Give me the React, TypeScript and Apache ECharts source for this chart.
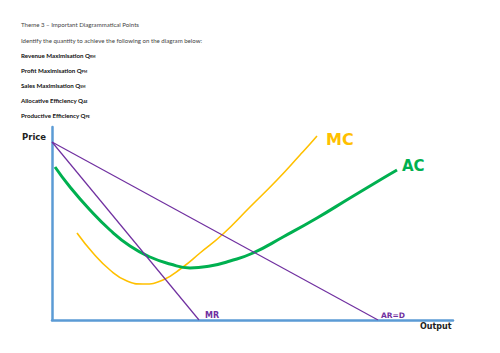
import React, { useEffect, useRef } from "react";
import * as echarts from "echarts";

// Curves (output units 0..401, price units 0..193)
const acPoints: [number, number][] = [
  [3, 153], [18, 133], [38, 110], [58, 90], [78, 74], [98, 63], [118, 56],
  [138, 52], [158, 54], [178, 59], [201, 67], [231, 83], [265, 102],
  [298, 122], [328, 140], [345, 150],
];
const mcPoints: [number, number][] = [
  [25, 87], [41, 67], [58, 50], [75, 39], [91, 36], [111, 40], [131, 53],
  [148, 67], [171, 86], [198, 113], [225, 140], [248, 165], [258, 176], [265, 184],
];
const arPoints: [number, number][] = [[0, 178], [326, 0]];
const mrPoints: [number, number][] = [[0, 178], [147, 0]];

const headerLines = [
  "Theme 3 – Important Diagrammatical Points",
  "Identify the quantity to achieve the following on the diagram below:",
];
const targetNames = [
  "Revenue Maximisation Q",
  "Profit Maximisation Q",
  "Sales Maximisation Q",
  "Allocative Efficiency Q",
  "Productive Efficiency Q",
];
const targetSubs = ["RM", "PM", "SM", "AE", "PE"];

const PURPLE = "#7030a0";
const GREEN = "#00b050";
const YELLOW = "#ffc000";
const BLUE = "#5b9bd5";

export default function App() {
  const ref = useRef<HTMLDivElement>(null);
  useEffect(() => {
    const chart = echarts.init(ref.current!, undefined, { renderer: "svg" });
    const headerY = [25, 41];
    const targetY = [56, 71, 86, 101, 116];
    const graphics: any[] = [];
    headerLines.forEach((t, i) => {
      graphics.push({
        type: "text",
        left: 21,
        top: headerY[i] - 4,
        style: { text: t, fontFamily: "Lato", fontSize: 6.1, fill: "#444" },
      });
    });
    targetNames.forEach((t, i) => {
      graphics.push({
        type: "text",
        left: 21,
        top: targetY[i] - 4,
        style: {
          text: `{a|${t}}{b|${targetSubs[i]}}`,
          rich: {
            a: { fontFamily: "Lato", fontSize: 6.2, fontWeight: "bold", fill: "#111" },
            b: { fontFamily: "Lato", fontSize: 3.4, fontWeight: "bold", fill: "#111", padding: [3, 0, 0, 0] },
          },
        },
      });
    });
    graphics.push(
      { type: "text", left: 22, top: 132, style: { text: "Price", fontFamily: "DejaVu Sans", fontWeight: "bold", fontSize: 8.5, fill: "#222" } },
      { type: "text", left: 420, top: 322, style: { text: "Output", fontFamily: "DejaVu Sans", fontWeight: "bold", fontSize: 8, fill: "#222" } },
      { type: "text", left: 205, top: 311, style: { text: "MR", fontFamily: "DejaVu Sans", fontWeight: "bold", fontSize: 8, fill: PURPLE } },
      { type: "text", left: 381, top: 311, style: { text: "AR=D", fontFamily: "DejaVu Sans", fontWeight: "bold", fontSize: 7.5, fill: PURPLE } },
      { type: "text", left: 326, top: 131, style: { text: "MC", fontFamily: "DejaVu Sans", fontWeight: "bold", fontSize: 16, fill: YELLOW } },
      { type: "text", left: 402, top: 158, style: { text: "AC", fontFamily: "DejaVu Sans", fontWeight: "bold", fontSize: 15, fill: GREEN } }
    );

    chart.setOption({
      animation: false,
      backgroundColor: "#fff",
      grid: { left: 52, right: 47, top: 127, bottom: 33, containLabel: false },
      xAxis: {
        type: "value", min: 0, max: 401,
        axisLine: { show: true, lineStyle: { color: BLUE, width: 2.5 } },
        axisTick: { show: false }, axisLabel: { show: false }, splitLine: { show: false },
      },
      yAxis: {
        type: "value", min: 0, max: 193,
        axisLine: { show: true, lineStyle: { color: BLUE, width: 2.5 } },
        axisTick: { show: false }, axisLabel: { show: false }, splitLine: { show: false },
      },
      series: [
        { type: "line", data: arPoints, showSymbol: false, lineStyle: { color: PURPLE, width: 1.2 }, z: 3 },
        { type: "line", data: mrPoints, showSymbol: false, lineStyle: { color: PURPLE, width: 1.2 }, z: 3 },
        { type: "line", data: mcPoints, smooth: 0.5, showSymbol: false, lineStyle: { color: YELLOW, width: 1.6 }, z: 2 },
        { type: "line", data: acPoints, smooth: 0.5, showSymbol: false, lineStyle: { color: GREEN, width: 3 }, z: 2 },
      ],
      graphic: graphics,
    });
    return () => chart.dispose();
  }, []);
  return <div ref={ref} style={{ width: 500, height: 353, position: "absolute", left: 0, top: 0 }} />;
}
